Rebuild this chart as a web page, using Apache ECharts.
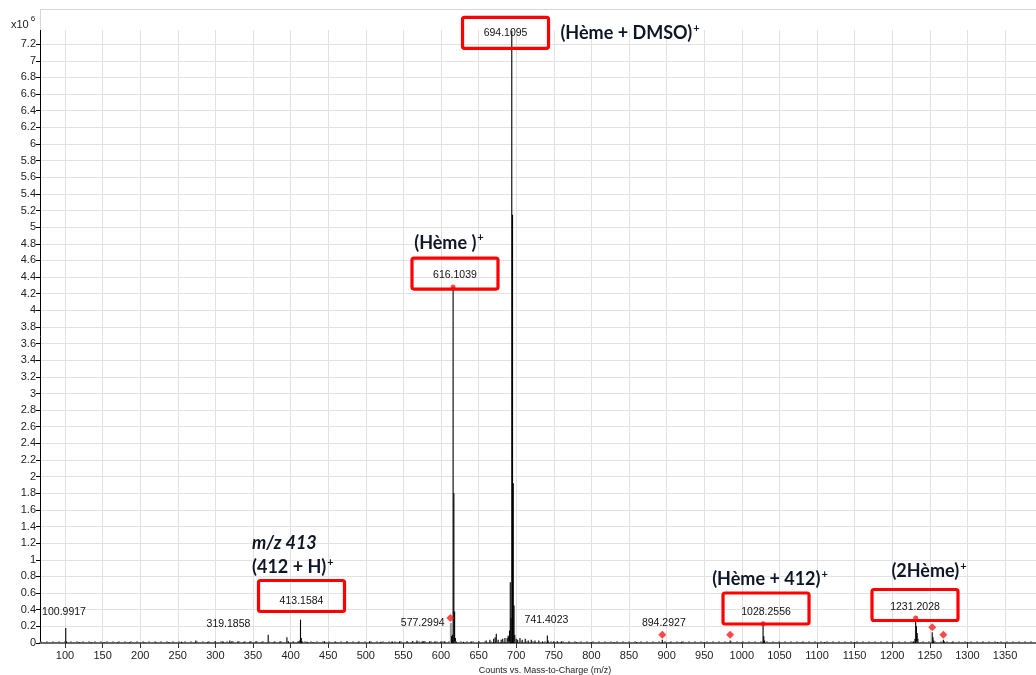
<!DOCTYPE html>
<html><head><meta charset="utf-8">
<script src="https://cdn.jsdelivr.net/npm/echarts@6/dist/echarts.min.js"></script>
<style>html,body{margin:0;padding:0;background:#fff}#c{width:1036px;height:675px}</style>
</head><body><div id="c"></div>
<script>
// ---- tick labels ----
const xTicks = [100,150,200,250,300,350,400,450,500,550,600,650,700,750,800,850,900,950,1000,1050,1100,1150,1200,1250,1300,1350];
const yTicks = [0,0.2,0.4,0.6,0.8,1,1.2,1.4,1.6,1.8,2,2.2,2.4,2.6,2.8,3,3.2,3.4,3.6,3.8,4,4.2,4.4,4.6,4.8,5,5.2,5.4,5.6,5.8,6,6.2,6.4,6.6,6.8,7,7.2];

// ---- spectrum: m/z and intensity (x10^6 counts) ----
const peakMz = [100.99,102.0,119.0,135.0,152.0,170.0,186.0,205.0,221.0,238.0,255.0,274.0,290.0,300.0,310.0,319.19,322.0,330.0,338.0,346.0,354.0,362.0,370.2,378.0,386.0,395.1,397.0,404.0,410.0,412.1,413.16,414.2,415.2,422.0,430.0,445.0,460.0,475.0,490.0,505.0,520.0,535.0,545.0,555.0,562.0,568.0,575.0,577.3,585.0,592.0,600.0,605.0,614.1,615.1,616.10,617.11,618.11,619.1,620.0,630.0,640.0,650.0,660.0,665.0,670.0,672.0,673.5,676.0,680.0,682.0,685.0,688.0,690.0,691.1,692.1,693.1,694.11,695.11,696.11,697.11,698.1,700.0,702.0,705.0,708.0,712.0,716.0,720.0,725.0,730.0,735.0,741.40,742.4,750.0,755.0,760.0,770.0,780.0,800.0,830.0,860.0,894.29,905.0,920.0,950.0,984.5,1000.0,1028.26,1029.26,1030.26,1050.0,1080.0,1110.0,1150.0,1200.0,1228.0,1230.2,1231.20,1232.2,1233.2,1234.2,1253.2,1254.2,1255.2,1268.0,1269.0,1280.0,1300.0,1320.0,1340.0];
const peakInt = [0.18,0.02,0.01,0.01,0.01,0.01,0.01,0.01,0.01,0.01,0.015,0.03,0.015,0.02,0.02,0.03,0.02,0.02,0.015,0.02,0.02,0.015,0.10,0.015,0.02,0.07,0.02,0.015,0.02,0.03,0.28,0.06,0.02,0.015,0.01,0.02,0.015,0.02,0.015,0.02,0.015,0.02,0.02,0.02,0.025,0.03,0.02,0.025,0.02,0.02,0.02,0.02,0.08,0.10,4.28,1.80,0.38,0.06,0.02,0.015,0.02,0.02,0.03,0.04,0.05,0.07,0.11,0.04,0.04,0.05,0.06,0.06,0.08,0.15,0.73,0.30,7.36,5.15,1.92,0.45,0.10,0.05,0.04,0.06,0.04,0.05,0.03,0.04,0.03,0.03,0.02,0.09,0.03,0.02,0.02,0.02,0.015,0.01,0.01,0.01,0.01,0.04,0.01,0.015,0.01,0.03,0.01,0.22,0.08,0.03,0.01,0.01,0.01,0.01,0.01,0.02,0.05,0.29,0.20,0.12,0.05,0.13,0.07,0.03,0.04,0.02,0.015,0.01,0.01,0.01];
const greyMz = [613.1,689.0];
const greyInt = [0.24,0.09];
// baseline noise trace ends
const baseMz = [66.8,1391];
const baseInt = [0.012,0.012];
// red markers
const diamondMz = [612.5,894.3,984.5,1253.2,1268.0];
const diamondInt = [0.30,0.10,0.10,0.19,0.10];
const dotMz = [616.10,1028.26,1231.20];
const dotInt = [4.28,0.23,0.30];

// ---- annotations ----
const peakLabelText = ['100.9917','319.1858','577.2994','741.4023','894.2927'];
const peakLabelMz = [98.7,317.4,575.7,740.2,896.3];
const peakLabelInt = [0.373,0.228,0.24,0.276,0.24];

const boxText = ['694.1095','616.1039','413.1584','1028.2556','1231.2028'];
const boxMz = [685.8,618.6,414.5,1032.2,1230.3];
const boxInt = [7.33,4.435,0.559,0.409,0.451];

const ionMain = ['(Hème + DMSO)','(Hème )','(412 + H)','(Hème + 412)','(2Hème)'];
const ionMz = [851.3,610.6,406.0,1037.5,1248.9];
const ionInt = [7.33,4.81,0.912,0.77,0.865];
const mzNote = 'm/z 413';
const mzNoteMz = 393.9, mzNoteInt = 1.20;

const chart = echarts.init(document.getElementById('c'), null, {renderer:'canvas'});
const zip = (a,b) => a.map((v,i)=>[v,b[i]]);

function sticks(color, lw){
  return function(params, api){
    const p0 = api.coord([api.value(0), 0]);
    const p1 = api.coord([api.value(0), api.value(1)]);
    return {type:'line', shape:{x1:p0[0],y1:p0[1],x2:p1[0],y2:p1[1]}, style:{stroke:color,lineWidth:lw}};
  };
}

chart.setOption({
  animation:false,
  backgroundColor:'#fff',
  grid:{left:40,right:0,top:30,bottom:32,containLabel:false,outerBoundsMode:'none'},
  xAxis:{
    type:'value', min:66.76, max:1391.2,
    name:'Counts vs. Mass-to-Charge (m/z)', nameLocation:'middle', nameGap:21,
    nameTextStyle:{fontFamily:'Liberation Sans',fontSize:9,color:'#222',padding:[0,0,0,14]},
    axisLine:{show:true,onZero:false,lineStyle:{color:'#6b6b6b',width:2}},
    axisTick:{show:true,customValues:xTicks,length:5,lineStyle:{color:'#333'}},
    axisLabel:{customValues:xTicks,fontFamily:'Liberation Sans',fontSize:11,color:'#222',margin:7,
      formatter:v=>String(Math.round(v))},
    splitLine:{show:true,lineStyle:{color:'#e2e2e2',width:1}}
  },
  yAxis:{
    type:'value', min:0, max:7.37,
    axisLine:{show:true,lineStyle:{color:'#000',width:1}},
    axisTick:{show:true,customValues:yTicks,length:4,lineStyle:{color:'#000'}},
    axisLabel:{customValues:yTicks,fontFamily:'Liberation Sans',fontSize:11,color:'#222',margin:4,
      formatter:v=>String(+v.toFixed(1))},
    splitLine:{show:true,lineStyle:{color:'#e2e2e2',width:1}}
  },
  series:[
    {type:'line',data:zip(baseMz,baseInt),symbol:'none',silent:true,
      lineStyle:{color:'#555',width:1,type:[2,4]}},
    {type:'custom',renderItem:sticks('#9a9a9a',2),data:zip(greyMz,greyInt),silent:true},
    {type:'custom',renderItem:sticks('#000',1.1),data:zip(peakMz,peakInt),silent:true},
    {type:'scatter',data:zip(diamondMz,diamondInt),symbol:'diamond',symbolSize:8,
      itemStyle:{color:'#ff1a1a'},silent:true},
    {type:'scatter',data:zip(dotMz,dotInt),symbol:'circle',symbolSize:5,
      itemStyle:{color:'#ff1a1a'},silent:true}
  ]
});

const px = (mz,v)=>chart.convertToPixel({gridIndex:0},[mz,v]);
const g = [];
g.push({type:'polyline',shape:{points:[[40.5,30],[40.5,9.5],[1036,9.5]]},style:{stroke:'#d6d6d6',lineWidth:1,fill:null},z:1});
g.push({type:'text',x:11,y:13,style:{text:'{a|x10}{b|6}',rich:{a:{fontFamily:'Liberation Sans',fontSize:11,fill:'#222',padding:[6,0,0,0]},b:{fontFamily:'Liberation Sans',fontSize:8,fill:'#222',padding:[0,0,6,2]}}},z:10});

const labelFont = {fontFamily:'Liberation Sans',fontSize:10.5,fill:'#111'};
peakLabelText.forEach((t,i)=>{
  const p = px(peakLabelMz[i],peakLabelInt[i]);
  g.push({type:'text',x:p[0],y:p[1],style:Object.assign({text:t,align:'center',verticalAlign:'middle'},labelFont),z:10});
});
const textDy = [0,1,5,3,2];
boxText.forEach((t,i)=>{
  const p = px(boxMz[i],boxInt[i]);
  g.push({type:'rect',shape:{x:p[0]-43,y:p[1]-16,width:86,height:31,r:2},style:{stroke:'#ff0000',lineWidth:3.2,fill:null},z:10});
  g.push({type:'text',x:p[0],y:p[1]+textDy[i],style:Object.assign({text:t,align:'center',verticalAlign:'middle'},labelFont),z:11});
});
const ionRich = {
  a:{fontFamily:'Lato',fontWeight:'bold',fontSize:18,fill:'#0e1626',lineHeight:22},
  s:{fontFamily:'Lato',fontWeight:'bold',fontSize:11,fill:'#0e1626',padding:[0,0,10,1]}
};
const pn = px(mzNoteMz,mzNoteInt);
ionMain.forEach((t,i)=>{
  const p = px(ionMz[i],ionInt[i]);
  const left = (i===2);
  g.push({type:'text',x:left?pn[0]-34:p[0],y:p[1],style:{text:'{a|'+t+'}{s|+}',rich:ionRich,align:left?'left':'center',verticalAlign:'middle'},z:12});
});
g.push({type:'text',x:pn[0]-34,y:pn[1],style:{text:mzNote,fontFamily:'Lato',fontWeight:'bold',fontStyle:'italic',fontSize:18,fill:'#0e1626',align:'left',verticalAlign:'middle'},z:12});
chart.setOption({graphic:g});
</script>
</body></html>
